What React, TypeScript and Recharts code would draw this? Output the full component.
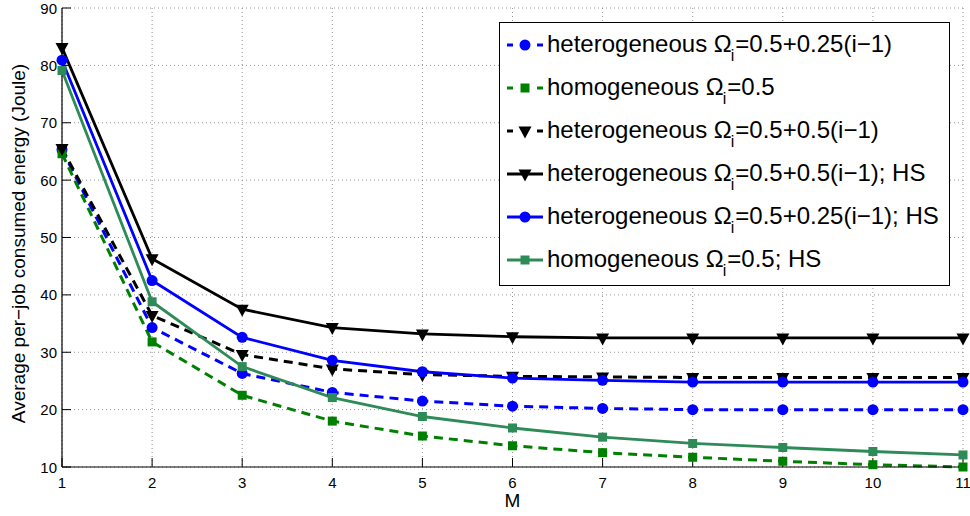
import React from "react";
import { LineChart, Line, XAxis, YAxis, CartesianGrid, Legend } from "recharts";

const mValues = [1, 2, 3, 4, 5, 6, 7, 8, 9, 10, 11];
const hetero025 = [65.3, 34.3, 26.3, 23.0, 21.5, 20.6, 20.2, 20.0, 20.0, 20.0, 20.0];
const homog = [64.6, 31.8, 22.5, 18.0, 15.4, 13.7, 12.5, 11.7, 11.0, 10.4, 10.0];
const hetero05 = [65.5, 36.4, 29.6, 27.1, 26.1, 25.8, 25.7, 25.6, 25.6, 25.6, 25.6];
const hetero05HS = [83.1, 46.3, 37.5, 34.3, 33.2, 32.7, 32.5, 32.5, 32.5, 32.5, 32.5];
const hetero025HS = [80.9, 42.5, 32.6, 28.6, 26.6, 25.5, 25.1, 24.8, 24.8, 24.8, 24.8];
const homogHS = [79.1, 38.8, 27.5, 22.1, 18.8, 16.8, 15.2, 14.1, 13.4, 12.7, 12.1];

const xTicks = [1, 2, 3, 4, 5, 6, 7, 8, 9, 10, 11];
const yTicks = [10, 20, 30, 40, 50, 60, 70, 80, 90];

const FONT = '"Liberation Sans", Arial, Helvetica, sans-serif';

const data = mValues.map((m, i) => ({
  m,
  hetero025: hetero025[i],
  homog: homog[i],
  hetero05: hetero05[i],
  hetero05HS: hetero05HS[i],
  hetero025HS: hetero025HS[i],
  homogHS: homogHS[i],
}));

type Shape = "circle" | "square" | "triangle";

const series: {
  key: string;
  pre: string;
  post: string;
  color: string;
  dashed: boolean;
  shape: Shape;
}[] = [
  { key: "hetero025", pre: "heterogeneous Ω", post: "=0.5+0.25(i−1)", color: "#0000ff", dashed: true, shape: "circle" },
  { key: "homog", pre: "homogeneous Ω", post: "=0.5", color: "#008000", dashed: true, shape: "square" },
  { key: "hetero05", pre: "heterogeneous Ω", post: "=0.5+0.5(i−1)", color: "#000000", dashed: true, shape: "triangle" },
  { key: "hetero05HS", pre: "heterogeneous Ω", post: "=0.5+0.5(i−1); HS", color: "#000000", dashed: false, shape: "triangle" },
  { key: "hetero025HS", pre: "heterogeneous Ω", post: "=0.5+0.25(i−1); HS", color: "#0000ff", dashed: false, shape: "circle" },
  { key: "homogHS", pre: "homogeneous Ω", post: "=0.5; HS", color: "#2e8b57", dashed: false, shape: "square" },
];

function marker(shape: Shape, color: string, cx: number, cy: number, k?: string) {
  if (shape === "circle") return <circle key={k} cx={cx} cy={cy} r={5.5} fill={color} />;
  if (shape === "square")
    return <rect key={k} x={cx - 4.5} y={cy - 4.5} width={9} height={9} fill={color} />;
  return (
    <polygon
      key={k}
      points={`${cx - 6.5},${cy - 4.5} ${cx + 6.5},${cy - 4.5} ${cx},${cy + 7.5}`}
      fill={color}
    />
  );
}

function makeDot(shape: Shape, color: string) {
  return (props: any) => {
    const { cx, cy, index } = props;
    if (cx == null || cy == null) return <g key={index} />;
    return marker(shape, color, cx, cy, `d${index}`);
  };
}

function LegendBox() {
  return (
    <div
      style={{
        boxSizing: "border-box",
        width: 451,
        height: 264,
        border: "1px solid #000",
        background: "#fff",
        paddingLeft: 7,
        fontFamily: FONT,
        fontSize: 24,
        color: "#000",
      }}
    >
      {series.map((s) => (
        <div key={s.key} style={{ height: 43, display: "flex", alignItems: "center" }}>
          <svg width={36} height={20} style={{ flex: "none" }}>
            {s.dashed ? (
              <g stroke={s.color} strokeWidth={3}>
                <line x1={0} y1={10} x2={6} y2={10} />
                <line x1={30} y1={10} x2={36} y2={10} />
              </g>
            ) : (
              <line x1={0} y1={10} x2={36} y2={10} stroke={s.color} strokeWidth={3} />
            )}
            {marker(s.shape, s.color, 18, 10)}
          </svg>
          <span style={{ marginLeft: 4, lineHeight: "28px", whiteSpace: "nowrap", position: "relative", top: 1 }}>
            {s.pre}
            <span style={{ fontSize: 16, position: "relative", top: 9, margin: "0 1px 0 -1px" }}>i</span>
            {s.post}
          </span>
        </div>
      ))}
    </div>
  );
}

function YLabel(props: any) {
  const vb = props.viewBox;
  const x = vb.x + 18;
  const y = vb.y + vb.height / 2 + 6;
  return (
    <text
      x={x}
      y={y}
      transform={`rotate(-90, ${x}, ${y})`}
      textAnchor="middle"
      dominantBaseline="central"
      fontSize={19}
      fontFamily={FONT}
      fill="#000"
    >
      Average per−job consumed energy (Joule)
    </text>
  );
}

function XLabel(props: any) {
  const vb = props.viewBox;
  return (
    <text
      x={vb.x + vb.width / 2}
      y={vb.y + 40}
      textAnchor="middle"
      fontSize={19}
      fontFamily={FONT}
      fill="#000"
    >
      M
    </text>
  );
}

function XTick(props: any) {
  const { x, y, payload } = props;
  return (
    <text x={x} y={y + 11} textAnchor="middle" fontSize={15} fontFamily={FONT} fill="#000">
      {payload.value}
    </text>
  );
}

function YTick(props: any) {
  const { x, y, payload } = props;
  return (
    <text x={x} y={y + 5.5} textAnchor="end" fontSize={15} fontFamily={FONT} fill="#000">
      {payload.value}
    </text>
  );
}

const axisStyle = { stroke: "#000", strokeWidth: 1.2 };

export default function App() {
  return (
    <div style={{ width: 970, height: 516, background: "#fff" }}>
      <style>{"body{margin:0}"}</style>
      <LineChart
        width={970}
        height={516}
        data={data}
        margin={{ top: 8, right: 7, bottom: 0, left: 0 }}
      >
        <CartesianGrid stroke="#7a7a7a" strokeWidth={0.8} strokeDasharray="1 3" />
        <XAxis
          dataKey="m"
          type="number"
          domain={[1, 11]}
          ticks={xTicks}
          interval={0}
          height={49}
          tickSize={-9}
          tickMargin={19}
          tick={XTick}
          axisLine={axisStyle}
          tickLine={{ stroke: "#000" }}
          label={XLabel}
        />
        <XAxis
          xAxisId="top"
          orientation="top"
          type="number"
          domain={[1, 11]}
          ticks={xTicks}
          interval={0}
          height={0}
          tickSize={-9}
          tickFormatter={() => ""}
          axisLine={axisStyle}
          tickLine={{ stroke: "#000" }}
        />
        <YAxis
          type="number"
          domain={[10, 90]}
          ticks={yTicks}
          interval={0}
          width={62}
          tickSize={-9}
          tickMargin={14}
          tick={YTick}
          axisLine={axisStyle}
          tickLine={{ stroke: "#000" }}
          label={YLabel}
        />
        <YAxis
          yAxisId="right"
          orientation="right"
          type="number"
          domain={[10, 90]}
          ticks={yTicks}
          interval={0}
          width={0}
          tickSize={-9}
          tickFormatter={() => ""}
          axisLine={axisStyle}
          tickLine={{ stroke: "#000" }}
        />
        <Legend
          layout="vertical"
          align="center"
          verticalAlign="middle"
          wrapperStyle={{ left: 499, top: 22, width: 451, height: 264 }}
          content={LegendBox}
        />
        {series.map((s) => (
          <Line
            key={s.key}
            dataKey={s.key}
            type="linear"
            stroke={s.color}
            strokeWidth={s.dashed ? 3 : 2.8}
            strokeDasharray={s.dashed ? "9 6" : undefined}
            dot={makeDot(s.shape, s.color)}
            activeDot={false}
            isAnimationActive={false}
          />
        ))}
      </LineChart>
    </div>
  );
}
